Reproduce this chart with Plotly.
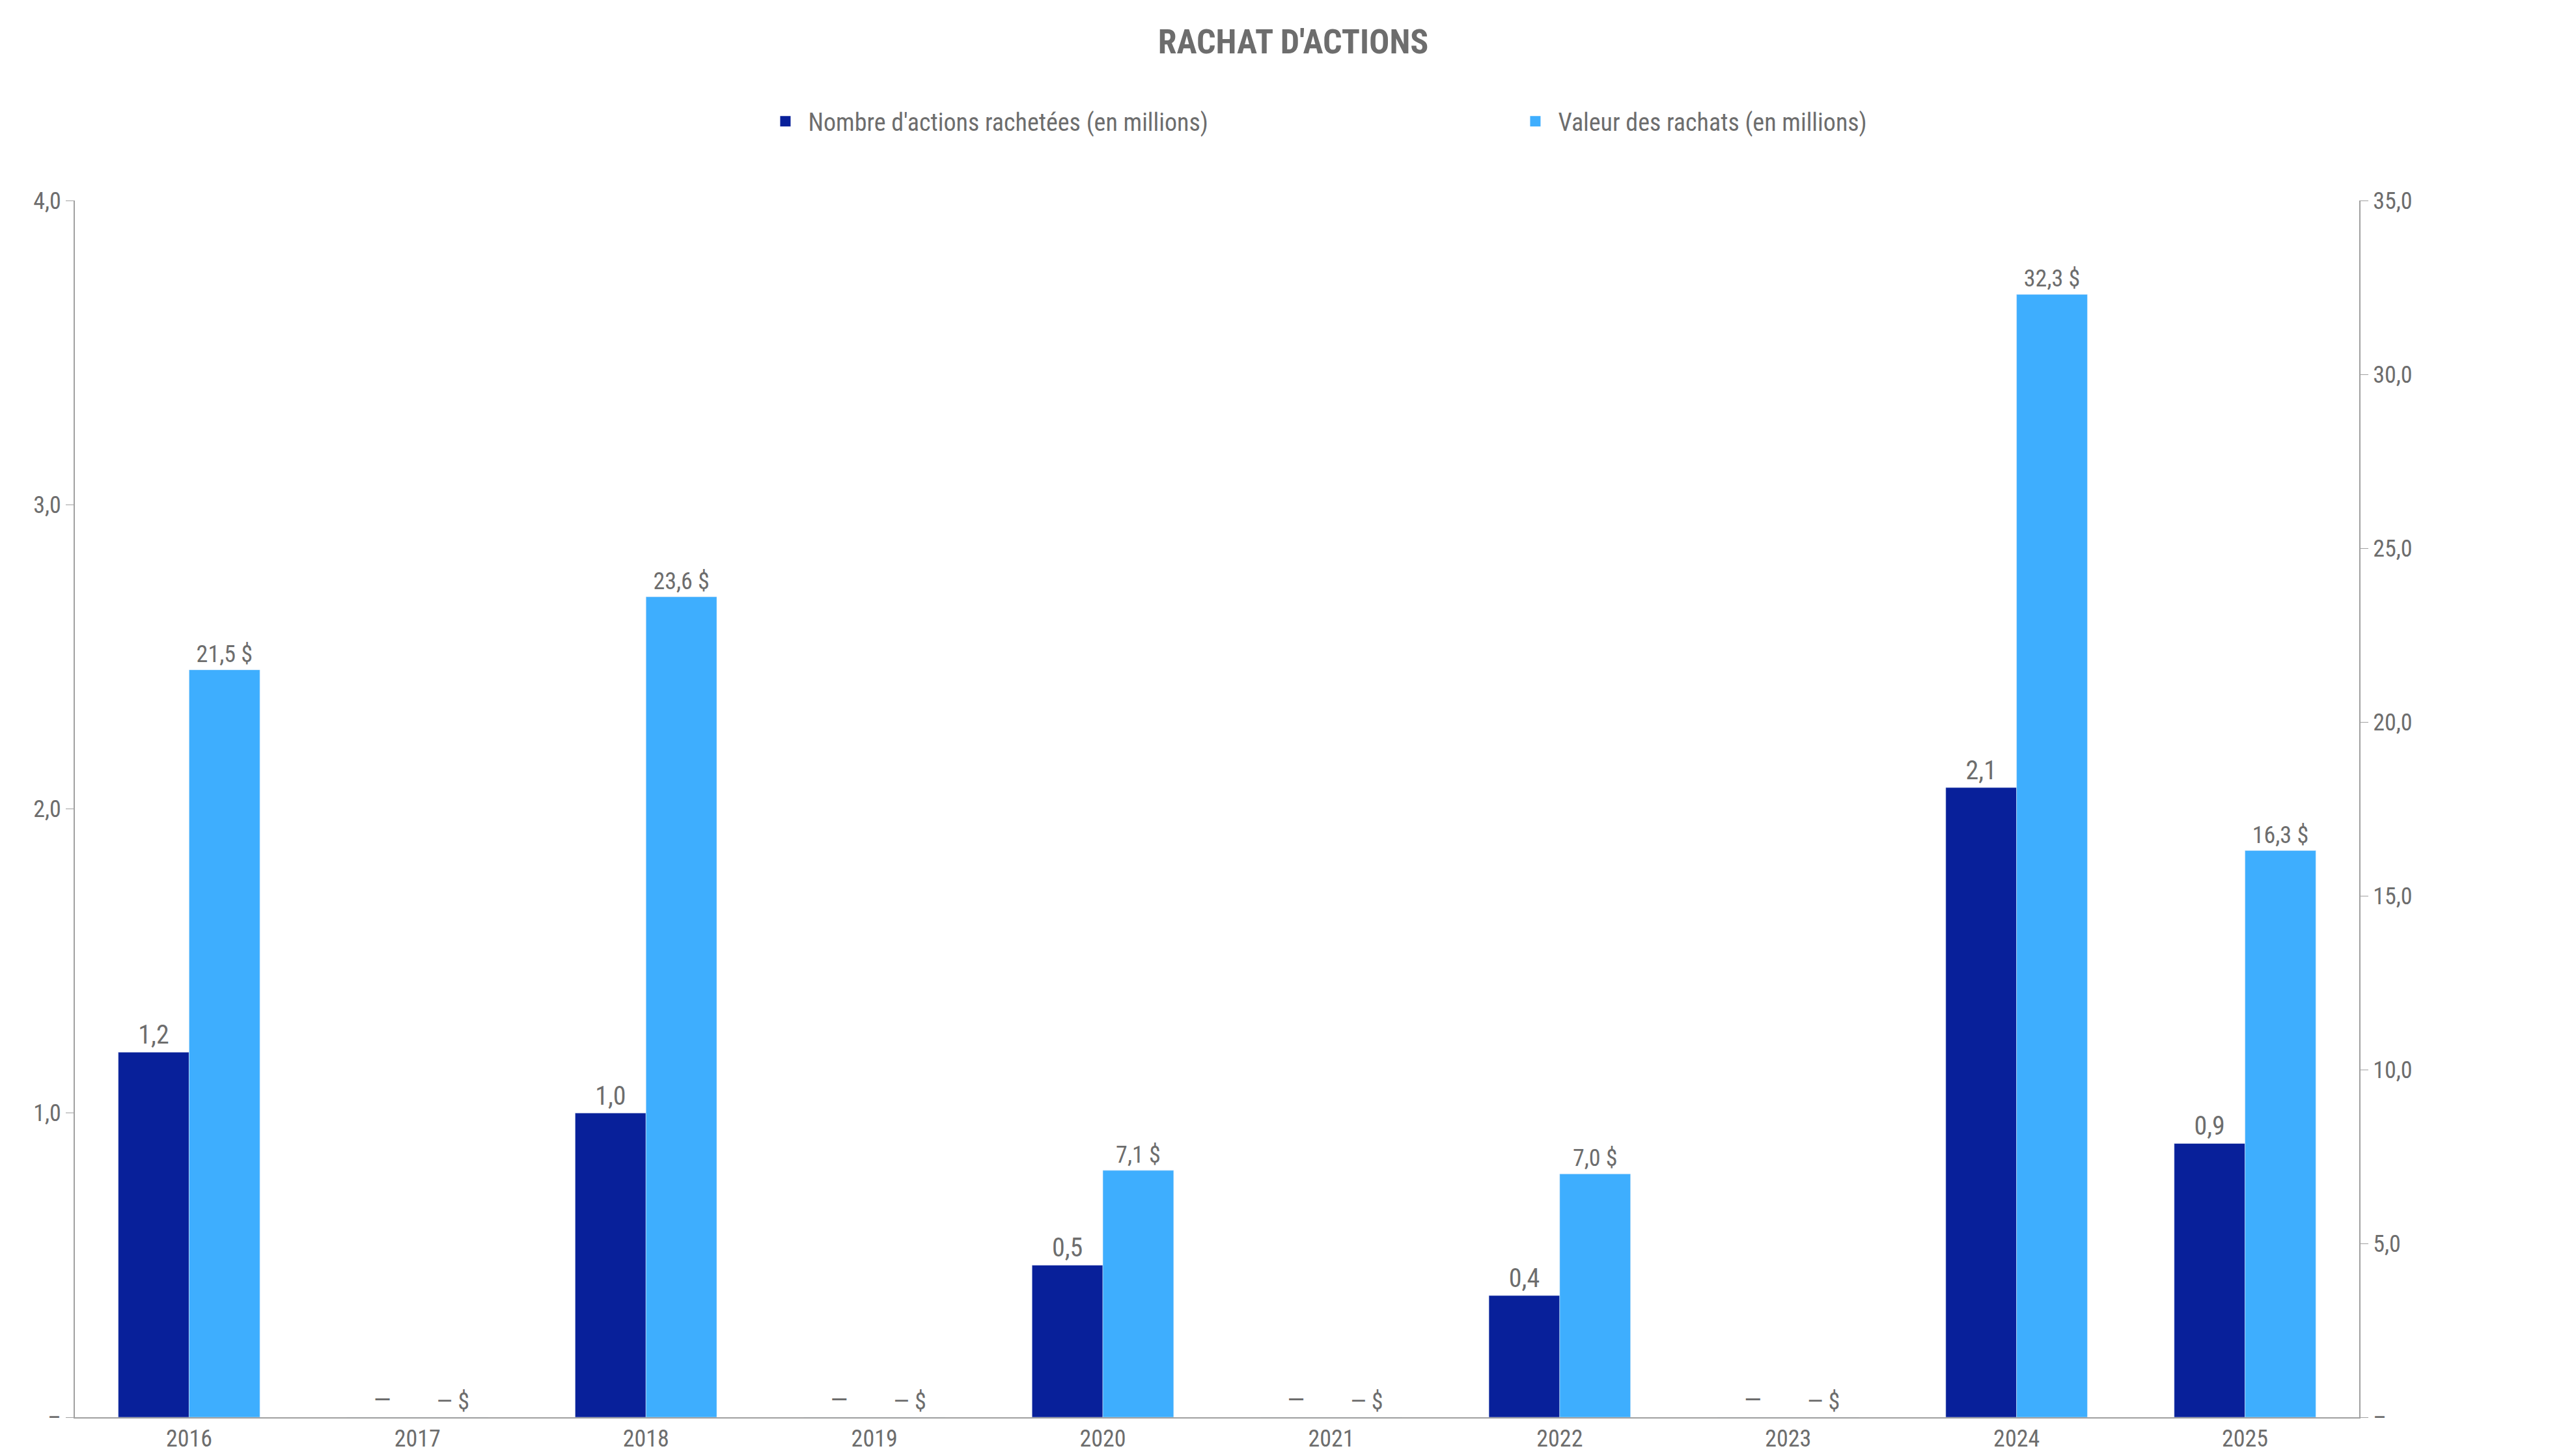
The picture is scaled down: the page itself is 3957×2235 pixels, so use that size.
""" Rachat d'actions - bar chart, two y axes. """

import plotly.graph_objects as go
from plotly.subplots import make_subplots

years = ["2016", "2017", "2018", "2019", "2020", "2021", "2022", "2023", "2024", "2025"]
actions = [1.2, 0, 1.0, 0, 0.5, 0, 0.4, 0, 2.07, 0.9]
valeurs = [21.5, 0, 23.6, 0, 7.1, 0, 7.0, 0, 32.3, 16.3]

FONT = "Liberation Sans Narrow, Arial Narrow, Roboto Condensed, Liberation Sans"
GREY = "#6d6d6d"
DARK = "#08209a"
LIGHT = "#3eaefe"
NAMES = ["Nombre d'actions rachetées (en millions)", "Valeur des rachats (en millions)"]


def fr(v, suffix=""):
    if v == 0:
        return "—" + (" $" if suffix else "")
    return f"{v:.1f}".replace(".", ",") + suffix


fig = make_subplots(specs=[[{"secondary_y": True}]])

fig.add_trace(
    go.Bar(
        x=years, y=actions, name=NAMES[0], showlegend=False,
        marker_color=DARK, offsetgroup=0,
        text=[fr(v) for v in actions], textposition="outside",
        textfont=dict(size=40, color=GREY), cliponaxis=False,
    ),
    secondary_y=False,
)
fig.add_trace(
    go.Bar(
        x=years, y=valeurs, name=NAMES[1], showlegend=False,
        marker_color=LIGHT, offsetgroup=1,
        text=[fr(v, " $") for v in valeurs], textposition="outside",
        textfont=dict(size=36, color=GREY), cliponaxis=False,
    ),
    secondary_y=True,
)
# legend entries with big square markers
for name, col in zip(NAMES, [DARK, LIGHT]):
    fig.add_trace(go.Scatter(x=[None], y=[None], mode="markers", name=name,
                             marker=dict(symbol="square", size=40, color=col)))

fig.update_layout(
    width=3957, height=2235,
    paper_bgcolor="white", plot_bgcolor="white",
    font=dict(family=FONT, color=GREY, size=36),
    title=dict(text="<b>RACHAT D'ACTIONS</b>", x=0.5, xanchor="center", y=0.975,
               yanchor="middle", font=dict(size=52, color=GREY)),
    barmode="group", bargap=0.38, bargroupgap=0,
    margin=dict(l=107, r=117, t=300, b=53),
    legend=dict(orientation="h", x=0.283, xanchor="left", y=1.065, yanchor="middle",
                font=dict(size=38, color=GREY), entrywidth=1077, itemwidth=60,
                traceorder="normal"),
)
fig.update_xaxes(showline=True, linecolor="#a0a0a0", linewidth=2,
                 tickfont=dict(size=36, color=GREY), ticks="")
axis_style = dict(showgrid=False, showline=True, linecolor="#a0a0a0", linewidth=2,
                  ticks="outside", ticklen=12, tickcolor="#a0a0a0",
                  tickfont=dict(size=36, color=GREY), zeroline=False, automargin=False)
fig.update_yaxes(range=[0, 4], tickvals=[0, 1, 2, 3, 4],
                 ticktext=["–", "1,0", "2,0", "3,0", "4,0"],
                 secondary_y=False, **axis_style)
fig.update_yaxes(range=[0, 35], tickvals=[0, 5, 10, 15, 20, 25, 30, 35],
                 ticktext=["–", "5,0", "10,0", "15,0", "20,0", "25,0", "30,0", "35,0"],
                 secondary_y=True, **axis_style)

fig.write_html("out.html")
